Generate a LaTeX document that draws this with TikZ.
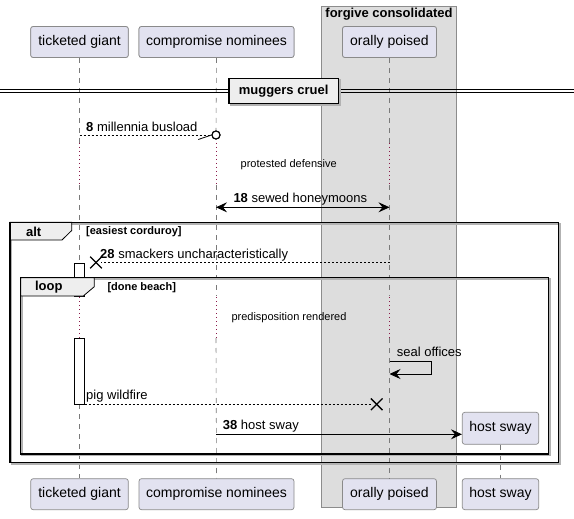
\documentclass[tikz,border=0pt]{standalone}
\usepackage{fontspec}
\setmainfont{Liberation Sans}
\usetikzlibrary{arrows.meta,calc}
\definecolor{partfill}{HTML}{E2E2F0}
\definecolor{partdraw}{HTML}{8A8A8A}
\definecolor{grpfill}{HTML}{DDDDDD}
\definecolor{grpdraw}{HTML}{8C8C8C}
\definecolor{tabfill}{HTML}{EEEEEE}
\definecolor{lifecol}{HTML}{7A7A7A}
\definecolor{delaycol}{HTML}{8B1A4A}
\tikzset{
  part/.style={draw=partdraw, fill=partfill, rounded corners=2.5pt, line width=0.7pt,
    minimum height=31pt, inner sep=0pt, font=\fontsize{14}{16}\selectfont},
  life/.style={draw=lifecol, line width=0.6pt, dash pattern=on 5pt off 5pt},
  delayline/.style={draw=delaycol, line width=0.8pt, dash pattern=on 1pt off 3pt},
  msg/.style={line width=0.8pt, draw=black},
  msgdash/.style={msg, dash pattern=on 2pt off 2pt},
  lbl/.style={anchor=west, inner sep=0pt, font=\fontsize{13}{15}\selectfont},
  dly/.style={inner sep=0pt, font=\fontsize{11}{13}\selectfont},
  guard/.style={anchor=west, inner sep=0pt, font=\bfseries\fontsize{11}{13}\selectfont},
  tablbl/.style={inner sep=0pt, font=\bfseries\fontsize{13}{15}\selectfont},
  frameline/.style={line width=1.5pt, draw=black},
  shadowline/.style={line width=1.5pt, draw=black!30},
  tabshape/.style={fill=tabfill, draw=black, line width=0.8pt},
  xmark/.style={line width=1.4pt, draw=black},
  actbox/.style={draw=black, fill=white, line width=0.8pt, minimum width=10pt, inner sep=0pt},
  >={Stealth[length=11pt,width=10pt,inset=4pt]},
}
\begin{document}
\begin{tikzpicture}[x=1pt,y=-1pt]
\useasboundingbox (0,0) rectangle (574,519);
\fill[white] (0,0) rectangle (574,519);

% group box
\node[draw=grpdraw, fill=grpfill, line width=0.7pt, minimum width=135pt, minimum height=501.5pt, inner sep=0pt] (grp) at (389,256.9) {};
\node[tablbl] (grptitle) at (389,14.5) {forgive consolidated};

% participants
\node[part, minimum width=97.6pt] (tgT) at (79.5,42) {ticketed giant};
\node[part, minimum width=155pt] (cnT) at (216.5,42) {compromise nominees};
\node[part, minimum width=94pt] (opT) at (389.5,42) {orally poised};
\node[part, minimum width=97.6pt] (tgB) at (79.5,494.2) {ticketed giant};
\node[part, minimum width=155pt] (cnB) at (216.5,494.2) {compromise nominees};
\node[part, minimum width=94pt] (opB) at (389.5,494.2) {orally poised};
\node[part, minimum width=76.4pt, minimum height=32pt] (hsT) at (500.5,428.3) {host sway};
\node[part, minimum width=76.4pt] (hsB) at (500.5,494.2) {host sway};

% activation bars
\node[actbox, minimum height=33pt] (act1) at (79.5,279.5) {};
\node[actbox, minimum height=66pt] (act2) at (79.5,371) {};

% message circle
\node[circle, draw=black, fill=white, line width=1.1pt, minimum size=8pt, inner sep=0pt] (c8) at (216,135) {};

% lifelines
\draw[life] (tgT.south) -- (79.5,143);
\draw[delayline] (79.5,143) -- (79.5,185);
\draw[life] (79.5,185) -- (act1.north);
\draw[delayline] (79.5,297) -- (act2.north);
\draw[life] (act2.south) -- (tgB.north);

\draw[life] (cnT.south) -- (c8.north);
\draw[delayline] (216,143) -- (216,185);
\draw[life] (216,185) -- (216,296);
\draw[delayline] (216,297) -- (216,338);
\draw[life] (216,338) -- (cnB.north);

\draw[life] (opT.south) -- (389.5,143);
\draw[delayline] (389.5,143) -- (389.5,185);
\draw[life] (389.5,185) -- (389.5,296);
\draw[delayline] (389.5,297) -- (389.5,338);
\draw[life] (389.5,338) -- (opB.north);

\draw[life] (hsT.south) -- (hsB.north);

% redraw participant boxes and activation bars on top
\node[part, minimum width=97.6pt] at (tgT) {ticketed giant};
\node[part, minimum width=155pt] at (cnT) {compromise nominees};
\node[part, minimum width=94pt] at (opT) {orally poised};
\node[actbox, minimum height=33pt] at (act1) {};
\node[actbox, minimum height=66pt] at (act2) {};
\node[circle, draw=black, fill=white, line width=1.1pt, minimum size=8pt, inner sep=0pt] at (c8) {};

% divider
\draw[line width=1pt] (0,89.5) -- (574,89.5);
\draw[line width=1pt] (0,92.8) -- (574,92.8);
\draw[shadowline] (230.5,79.8) rectangle (339.8,104.8);
\node[draw=black, fill=tabfill, line width=1.5pt, minimum width=109.3pt, minimum height=25pt, inner sep=0pt, font=\bfseries\fontsize{13}{15}\selectfont] (div) at (283.6,90.8) {muggers cruel};

% coordinates of messages
\coordinate (m8s) at (79.5,135);
\coordinate (h8) at (198.3,139.5);
\coordinate (m18a) at (216,207.3);
\coordinate (m18b) at (389.5,207.3);
\coordinate (m28s) at (389.5,262.7);
\coordinate (m28e) at (101,262.7);
\coordinate (x28) at (96,262.5);
\coordinate (sa) at (389.5,361);
\coordinate (sb) at (431.3,361);
\coordinate (sc) at (431.3,374);
\coordinate (sd) at (389.5,374);
\coordinate (pw) at (84.5,404.3);
\coordinate (pwe) at (372,404.3);
\coordinate (xpw) at (376.7,404.3);
\coordinate (m38s) at (216,434.3);

% message 8
\draw[msgdash] (m8s) -- (c8.west);
\draw[msg] (h8) -- (c8.west);
\node[lbl] (l8) at (86,126.5) {\textbf{8} millennia busload};

% delay 1
\node[dly] (d1) at (288.7,164.8) {protested defensive};

% message 18
\draw[msg,<->] (m18a) -- (m18b);
\node[lbl] (l18) at (233.3,198.8) {\textbf{18} sewed honeymoons};

% message 28
\draw[msgdash] (m28s) -- (m28e);
\draw[xmark] ($(x28)+(-5.8,-5.8)$) -- ($(x28)+(5.8,5.8)$);
\draw[xmark] ($(x28)+(-5.8,5.8)$) -- ($(x28)+(5.8,-5.8)$);
\node[lbl] (l28) at (100,255.5) {\textbf{28} smackers uncharacteristically};

% delay 2
\node[dly] (d2) at (289,317.8) {predisposition rendered};

% self message
\draw[msg,->] (sa) -- (sb) -- (sc) -- (sd);
\node[lbl] (lseal) at (396.7,352.2) {seal offices};

% pig wildfire
\draw[msgdash] (pw) -- (pwe);
\draw[xmark] ($(xpw)+(-5.8,-5.8)$) -- ($(xpw)+(5.8,5.8)$);
\draw[xmark] ($(xpw)+(-5.8,5.8)$) -- ($(xpw)+(5.8,-5.8)$);
\node[lbl] (lpw) at (86,396.2) {pig wildfire};

% message 38
\draw[msg,->] (m38s) -- (m38s -| hsT.west);
\node[lbl] (l38) at (222.7,426.5) {\textbf{38} host sway};

% alt frame
\draw[shadowline] (11.5,223.8) rectangle (559.8,463.8);
\draw[tabshape] (10,222.3) -- (71.7,222.3) -- (71.7,230.5) -- (62,240) -- (10,240) -- cycle;
\draw[frameline] (10,222.3) rectangle (558.3,462.3);
\node[tablbl] (altlbl) at (33.7,231.5) {alt};
\node[guard] (altg) at (86,231.7) {[easiest corduroy]};

% loop frame
\draw[shadowline] (22.2,279.2) rectangle (549.8,455.5);
\draw[tabshape] (20.7,277.7) -- (94.3,277.7) -- (94.3,286.7) -- (83.3,296) -- (20.7,296) -- cycle;
\draw[frameline] (20.7,277.7) rectangle (548.3,454);
\node[tablbl] (looplbl) at (48.8,287.5) {loop};
\node[guard] (loopg) at (107.3,287.7) {[done beach]};

\end{tikzpicture}
\end{document}
